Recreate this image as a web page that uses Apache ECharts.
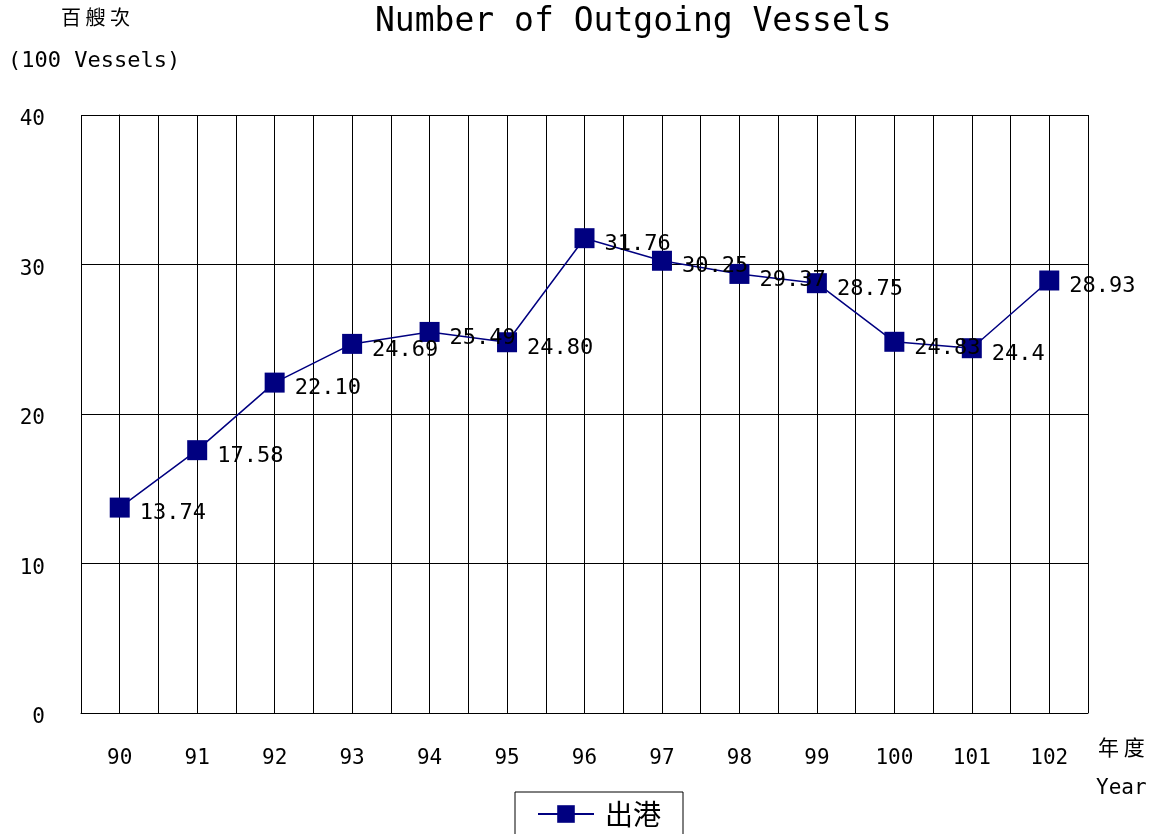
<!DOCTYPE html>
<html>
<head>
<meta charset="utf-8">
<script src="https://cdn.jsdelivr.net/npm/echarts@6/dist/echarts.min.js"></script>
<style>
html,body{margin:0;padding:0;background:#fff;}
#main{width:1160px;height:834px;}
</style>
</head>
<body>
<div id="main"></div>
<script>
var years = ['90','91','92','93','94','95','96','97','98','99','100','101','102'];
var outgoing = [13.74, 17.58, 22.10, 24.69, 25.49, 24.80, 31.76, 30.25, 29.37, 28.75, 24.83, 24.4, 28.93];
var valueLabels = ['13.74','17.58','22.10','24.69','25.49','24.80','31.76','30.25','29.37','28.75','24.83','24.4','28.93'];
var yTicks = [0, 10, 20, 30, 40];

var FONT = "'DejaVu Sans Mono', 'Noto Sans CJK TC', monospace";

// 点数据：x 用序号
var points = [];
for (var i = 0; i < outgoing.length; i++) {
    points.push([i, outgoing[i]]);
}

var myChart = echarts.init(document.getElementById('main'));
var option = {
    backgroundColor: '#fff',
    animation: false,
    title: {
        text: 'Number of Outgoing Vessels',
        left: 370,
        top: 1,
        textStyle: { fontFamily: FONT, fontSize: 33, fontWeight: 'normal', color: '#000' }
    },
    graphic: [
        { type: 'text', left: 61, top: 7, style: { text: '百 艘 次', font: "20px 'Noto Sans CJK TC'", fill: '#000' } },
        { type: 'text', left: 8, top: 50, style: { text: '(100 Vessels)', font: "22px " + FONT, fill: '#000' } },
        { type: 'text', left: 1098, top: 737, style: { text: '年 度', font: "21px 'Noto Sans CJK TC'", fill: '#000' } },
        { type: 'text', left: 1096, top: 778, style: { text: 'Year', font: "21px " + FONT, fill: '#000' } }
    ],
    legend: {
        data: ['出港'],
        left: 515,
        top: 792,
        itemWidth: 56,
        itemHeight: 22,
        itemGap: 10,
        padding: [8, 22, 14, 22],
        borderColor: '#000',
        borderWidth: 1,
        textStyle: { fontFamily: "'Noto Sans CJK TC'", fontSize: 28, color: '#000', padding: [0, 0, 0, 6] }
    },
    grid: { left: 81, right: 72, top: 115, bottom: 121, containLabel: false },
    xAxis: {
        type: 'value',
        min: -0.5,
        max: 12.5,
        interval: 0.5,
        axisLine: { show: true, lineStyle: { color: '#000', width: 1 } },
        axisTick: { show: false },
        axisLabel: {
            margin: 35,
            color: '#000',
            fontFamily: FONT,
            fontSize: 21,
            showMinLabel: true,
            showMaxLabel: true,
            formatter: function (v) {
                return Number.isInteger(v) ? years[v] : '';
            }
        },
        splitLine: { show: true, lineStyle: { color: '#000', width: 1 } }
    },
    yAxis: {
        type: 'value',
        min: yTicks[0],
        max: yTicks[yTicks.length - 1],
        interval: 10,
        axisLine: { show: true, lineStyle: { color: '#000', width: 1 } },
        axisTick: { show: false },
        axisLabel: { margin: 36, color: '#000', fontFamily: FONT, fontSize: 21, verticalAlign: 'top', lineHeight: 10 },
        splitLine: { show: true, lineStyle: { color: '#000', width: 1 } }
    },
    series: [{
        name: '出港',
        type: 'line',
        data: points,
        symbol: 'rect',
        symbolSize: 20,
        itemStyle: { color: '#000080' },
        lineStyle: { color: '#000080', width: 1.5 },
        label: {
            show: true,
            position: 'right',
            distance: 10,
            verticalAlign: 'top',
            lineHeight: 12,
            color: '#000',
            fontFamily: FONT,
            fontSize: 22,
            formatter: function (p) { return valueLabels[p.dataIndex]; }
        },
        labelLayout: { hideOverlap: false }
    }]
};
myChart.setOption(option);
</script>
</body>
</html>
